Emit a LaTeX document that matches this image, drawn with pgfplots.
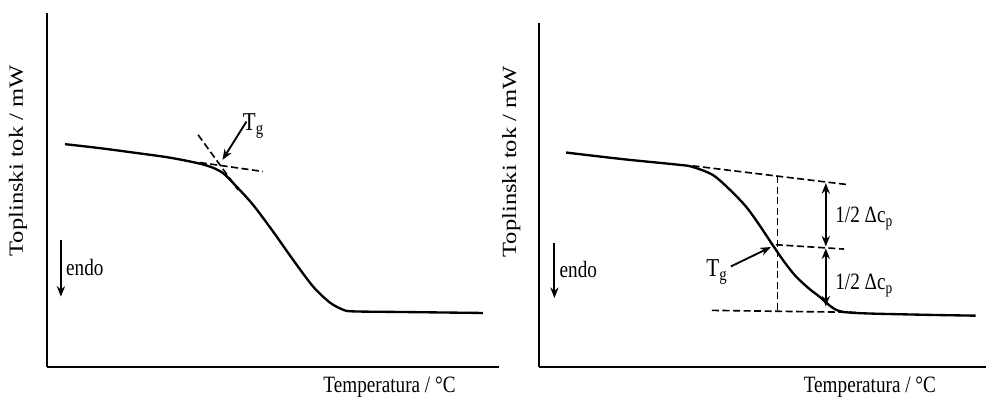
\documentclass[border=0pt]{standalone}
\usepackage{fontspec}
\setmainfont{Liberation Serif}
\usepackage{graphicx}
\usepackage{pgfplots}
\pgfplotsset{compat=1.18}
\usetikzlibrary{arrows.meta}

% text in the reference is a bit narrow
\newcommand{\hs}[1]{\scalebox{0.82}[1]{#1}}
\newcommand{\vs}[1]{\scalebox{1}[0.82]{#1}}

\pgfplotsset{
  dsc/.style={
    x=0.3mm, y=0.3mm,
    axis lines=left,
    axis line style={-, line width=1.8pt},
    xtick=\empty, ytick=\empty,
    clip=false,
    ymin=33,
    font=\fontsize{20}{24}\selectfont,
  },
  curve/.style={black, line width=2pt, smooth, no marks},
  tang/.style={black, line width=1.4pt, dash pattern=on 6pt off 3pt, no marks},
}
\tikzset{arr/.style={line width=1.6pt, -{Stealth[length=9pt,width=7pt]}},
  dbl/.style={line width=1.6pt, {Stealth[length=9pt,width=7pt]}-{Stealth[length=9pt,width=7pt]}}}

\begin{document}
\begin{tikzpicture}
% left panel: onset
\begin{axis}[dsc, xmin=47, xmax=500, ymax=387,
  xlabel={\hs{Temperatura / °C}},
  xlabel style={at={(axis description cs:0.757,-0.059)}, anchor=center},
  ylabel={\fontsize{21}{24}\selectfont\vs{Toplinski tok / mW}},
  ylabel style={at={(axis description cs:-0.064,0.582)}, anchor=center},
]
\addplot[curve] coordinates {
  (65,255.7) (100,251.7) (133.3,247.3) (166.7,242.7) (193.3,237.7)
  (210,233.3) (223.3,226.7) (236.7,213.3) (253.3,195) (273.3,168.3)
  (293.3,140) (313.3,113.3) (330,97.3) (343.3,90) (353.3,88.3)
  (400,87.7) (483.3,86.7)
};
\addplot[tang] coordinates {(200,237.3) (263.3,228.3)};
\addplot[tang] coordinates {(198.3,265) (238.3,210)};
\draw[arr] (axis cs:246.7,278.3) -- (axis cs:222.7,240);
\node[anchor=base west, inner sep=0pt] at (axis cs:243,269) {\fontsize{22}{24}\selectfont\hs{T\textsubscript{g}}};
\draw[arr] (axis cs:61,160) -- (axis cs:61,103);
\node[anchor=west, inner sep=0pt] at (axis cs:66,132) {\hs{endo}};
\end{axis}

% right panel: half height
\begin{axis}[dsc, at={(147.9mm,0)}, xmin=540, xmax=987, ymax=377,
  xlabel={\hs{Temperatura / °C}},
  xlabel style={at={(axis description cs:0.74,-0.061)}, anchor=center},
  ylabel={\fontsize{21}{24}\selectfont\vs{Toplinski tok / mW}},
  ylabel style={at={(axis description cs:-0.063,0.596)}, anchor=center},
]
\addplot[curve] coordinates {
  (566.7,247.3) (623.3,240.7) (680,235) (693,233) (713.3,225)
  (730,210.7) (746.7,193.3) (760,175) (773.3,155) (785,138)
  (796.7,123.3) (810,111) (820,103.3) (836.7,90) (856.7,86.7)
  (920,85) (976.7,84)
};
\addplot[tang] coordinates {(693.3,234) (850,215)};
\addplot[tang] coordinates {(776.7,155) (845,150.7)};
\addplot[tang] coordinates {(712.7,89.3) (856.7,87.3)};
\addplot[tang] coordinates {(778.3,223.5) (778.3,89.3)};
\draw[dbl] (axis cs:826.7,216.7) -- (axis cs:826.7,153.3);
\draw[dbl] (axis cs:826.7,151.3) -- (axis cs:826.7,93.3);
\node[anchor=west, inner sep=0pt] at (axis cs:836,181) {\hs{1/2 Δc\textsubscript{p}}};
\node[anchor=west, inner sep=0pt] at (axis cs:836,114) {\hs{1/2 Δc\textsubscript{p}}};
\draw[arr] (axis cs:731.7,133.3) -- (axis cs:771.7,152.7);
\node[anchor=base west, inner sep=0pt] at (axis cs:707,123) {\fontsize{22}{24}\selectfont\hs{T\textsubscript{g}}};
\draw[arr] (axis cs:555,156.7) -- (axis cs:555,101.7);
\node[anchor=west, inner sep=0pt] at (axis cs:560,130) {\hs{endo}};
\end{axis}

% page frame as in the reference
\path (-14.1mm,-9.9mm) rectangle (282mm,110.1mm);
\end{tikzpicture}
\end{document}
